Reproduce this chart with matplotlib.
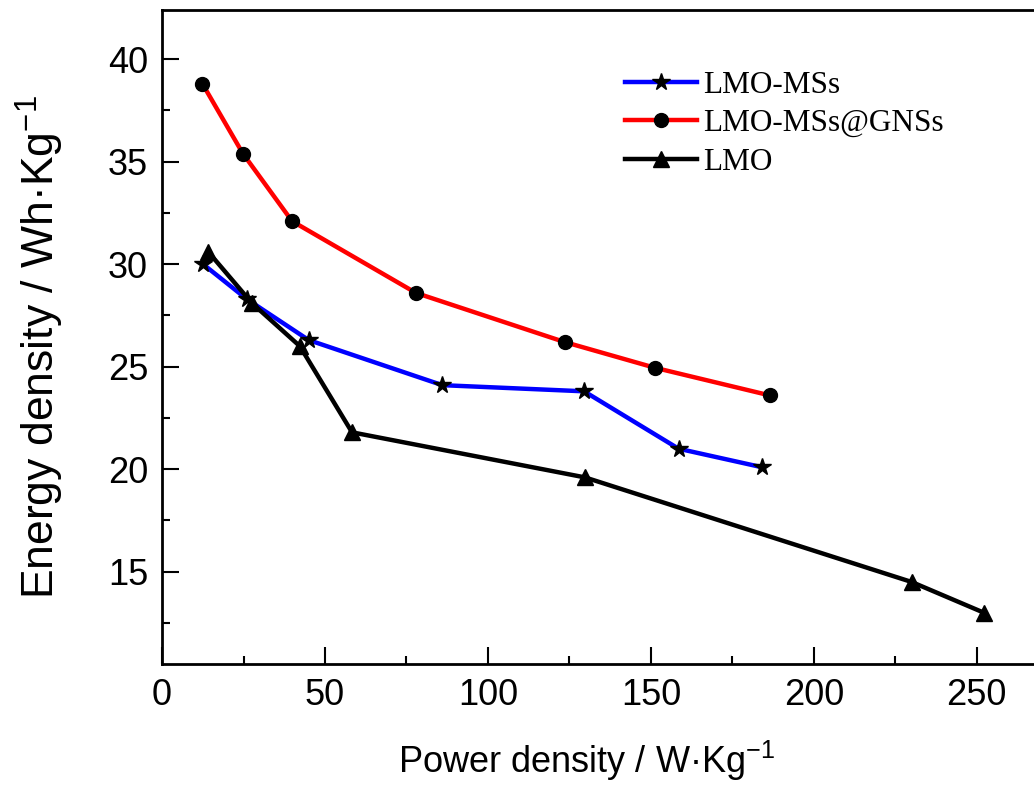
import matplotlib
matplotlib.use("Agg")
import matplotlib.pyplot as plt
from matplotlib.ticker import MultipleLocator

# power density (W/kg) and energy density (Wh/kg)
msS_power = [12.6, 26.0, 45.0, 86.0, 129.5, 158.5, 184.0]
msS_energy = [30.0, 28.3, 26.3, 24.1, 23.8, 21.0, 20.1]

gns_power = [12.4, 24.8, 39.9, 77.9, 123.6, 151.2, 186.5]
gns_energy = [38.8, 35.4, 32.1, 28.6, 26.2, 24.95, 23.6]

lmo_power = [14.2, 27.6, 42.3, 58.3, 129.8, 230.0, 252.2]
lmo_energy = [30.6, 28.1, 26.0, 21.8, 19.6, 14.5, 13.0]

labels = ["LMO-MSs", "LMO-MSs@GNSs", "LMO"]

plt.rcParams["font.family"] = ["Liberation Sans", "DejaVu Sans"]
plt.rcParams["mathtext.fontset"] = "custom"
plt.rcParams["mathtext.rm"] = "Liberation Sans"
plt.rcParams["mathtext.it"] = "Liberation Sans"
plt.rcParams["mathtext.default"] = "rm"

fig = plt.figure(figsize=(10.34, 7.88), dpi=100)
ax = fig.add_axes([0.1567, 0.1574, 0.851, 0.8299])

ax.plot(msS_power, msS_energy, color="blue", lw=3.2, marker="*", ms=13,
        mfc="black", mec="black", label=labels[0])
ax.plot(gns_power, gns_energy, color="red", lw=3.2, marker="o", ms=10,
        mfc="black", mec="black", label=labels[1])
ax.plot(lmo_power, lmo_energy, color="black", lw=3.2, marker="^", ms=11,
        mfc="black", mec="black", label=labels[2])

ax.set_xlim(0, 270)
ax.set_ylim(10.5, 42.4)
ax.xaxis.set_major_locator(MultipleLocator(50))
ax.xaxis.set_minor_locator(MultipleLocator(25))
ax.yaxis.set_major_locator(MultipleLocator(5))
ax.yaxis.set_minor_locator(MultipleLocator(2.5))
ax.tick_params(which="major", direction="in", length=12, width=1.5,
               labelsize=26, pad=10, top=False, right=False)
ax.tick_params(which="minor", direction="in", length=6, width=1.5,
               top=False, right=False)
for sp in ax.spines.values():
    sp.set_linewidth(2)

ax.set_xlabel("Power density / W·Kg$^{-1}$", fontsize=26)
ax.set_ylabel("Energy density / Wh·Kg$^{-1}$", fontsize=32)
ax.xaxis.set_label_coords(0.483, -0.115)
ax.yaxis.set_label_coords(-0.109, 0.485)

ax.legend(loc="upper left", bbox_to_anchor=(0.494, 0.95), frameon=False,
          prop={"family": "Liberation Serif", "size": 22.5},
          handlelength=2.3, handletextpad=0.2, labelspacing=0.3)

fig.savefig("out.png", dpi=100)
